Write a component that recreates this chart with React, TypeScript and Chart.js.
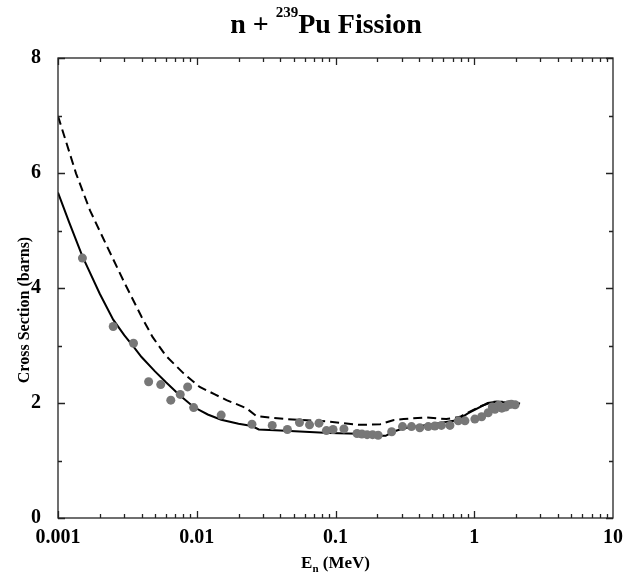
import React, { useEffect, useRef } from "react";
import { Chart, registerables } from "chart.js";

Chart.register(...registerables);

// ---- Data ----
const expEnergy = [
  0.0015, 0.0025, 0.0035, 0.0045, 0.0055, 0.0065, 0.0076, 0.0086, 0.0095, 0.015,
  0.025, 0.035, 0.045, 0.055, 0.065, 0.076, 0.086, 0.096, 0.115, 0.143,
  0.155, 0.169, 0.185, 0.203, 0.254, 0.304, 0.353, 0.405, 0.466, 0.52,
  0.58, 0.668, 0.767, 0.857, 1.01, 1.13, 1.26, 1.35, 1.41, 1.5,
  1.58, 1.68, 1.76, 1.85, 1.97,
];
const expSigma = [
  4.52, 3.33, 3.04, 2.37, 2.32, 2.05, 2.15, 2.28, 1.92, 1.79,
  1.63, 1.61, 1.54, 1.66, 1.62, 1.65, 1.52, 1.54, 1.55, 1.47,
  1.46, 1.45, 1.45, 1.44, 1.5, 1.59, 1.59, 1.57, 1.59, 1.6,
  1.61, 1.61, 1.69, 1.69, 1.72, 1.76, 1.83, 1.93, 1.89, 1.96,
  1.91, 1.93, 1.97, 1.98, 1.97,
];

const solidEnergy = [
  0.001, 0.0012, 0.0015, 0.002, 0.0025, 0.003, 0.0035, 0.004, 0.005, 0.006,
  0.0075, 0.0095, 0.012, 0.015, 0.02, 0.025, 0.028, 0.04, 0.06, 0.09,
  0.17, 0.2, 0.23, 0.26, 0.31, 0.5, 0.75, 0.9, 1.25, 1.45, 2.14,
];
const solidSigma = [
  5.66, 5.15, 4.55, 3.9, 3.45, 3.18, 2.98, 2.8, 2.55, 2.36,
  2.14, 1.93, 1.8, 1.71, 1.64, 1.6, 1.54, 1.52, 1.5, 1.48,
  1.46, 1.43, 1.43, 1.5, 1.56, 1.63, 1.7, 1.82, 2.0, 2.02, 1.99,
];

const dashedEnergy = [
  0.001, 0.00135, 0.0017, 0.0022, 0.003, 0.004, 0.0048, 0.006, 0.008, 0.0105,
  0.0135, 0.0164, 0.0228, 0.027, 0.044, 0.086, 0.15, 0.21, 0.26, 0.31,
  0.45, 0.63, 0.79, 1.1, 1.37, 1.81, 2.14,
];
const dashedSigma = [
  6.99, 5.99, 5.35, 4.78, 4.1, 3.5, 3.15, 2.82, 2.52, 2.28,
  2.15, 2.05, 1.91, 1.77, 1.72, 1.68, 1.62, 1.63, 1.7, 1.72,
  1.75, 1.72, 1.76, 1.94, 2.02, 2.02, 1.98,
];

const xTickValues = [0.001, 0.01, 0.1, 1, 10];
const xTickLabels = ["0.001", "0.01", "0.1", "1", "10"];
const yTickValues = [0, 2, 4, 6, 8];

const titleMain1 = "n + ";
const titleSup = "239";
const titleMain2 = "Pu Fission";
const yTitle = "Cross Section (barns)";
const xTitleMain = "E";
const xTitleSub = "n";
const xTitleRest = " (MeV)";

const FONT = "'Liberation Serif', 'Times New Roman', serif";

const toPoints = (xs: number[], ys: number[]) => xs.map((x, i) => ({ x, y: ys[i] }));

const decorPlugin = {
  id: "decor",
  afterDraw(chart: any) {
    const { ctx, chartArea } = chart;
    const { left, right, top, bottom } = chartArea;
    const xs = chart.scales.x;
    const ys = chart.scales.y;
    ctx.save();
    ctx.strokeStyle = "#222";
    ctx.lineWidth = 1.3;
    ctx.strokeRect(left, top, right - left, bottom - top);
    ctx.beginPath();
    for (let d = -3; d <= 0; d++) {
      for (let m = 1; m <= 9; m++) {
        const v = m * Math.pow(10, d);
        const px = Math.round(xs.getPixelForValue(v)) + 0.5;
        const len = m === 1 ? 7 : 4;
        ctx.moveTo(px, bottom);
        ctx.lineTo(px, bottom - len);
        ctx.moveTo(px, top);
        ctx.lineTo(px, top + len);
      }
    }
    for (let v = 0; v <= 8; v++) {
      const py = Math.round(ys.getPixelForValue(v)) + 0.5;
      const len = v % 2 === 0 ? 7 : 4;
      ctx.moveTo(left, py);
      ctx.lineTo(left + len, py);
      ctx.moveTo(right, py);
      ctx.lineTo(right - len, py);
    }
    ctx.stroke();

    // Title with superscript
    ctx.fillStyle = "#000";
    ctx.textBaseline = "alphabetic";
    ctx.textAlign = "left";
    const big = `bold 28px ${FONT}`;
    const small = `bold 15px ${FONT}`;
    ctx.font = big;
    const w1 = ctx.measureText(titleMain1).width;
    const w3 = ctx.measureText(titleMain2).width;
    ctx.font = small;
    const w2 = ctx.measureText(titleSup).width;
    const total = w1 + w2 + w3;
    let tx = 326 - total / 2;
    ctx.font = big;
    ctx.fillText(titleMain1, tx, 33);
    tx += w1;
    ctx.font = small;
    ctx.fillText(titleSup, tx, 17);
    tx += w2;
    ctx.font = big;
    ctx.fillText(titleMain2, tx, 33);

    // X axis title with subscript
    const xf = `bold 17px ${FONT}`;
    const xs2 = `bold 11px ${FONT}`;
    ctx.font = xf;
    const a = ctx.measureText(xTitleMain).width;
    const c = ctx.measureText(xTitleRest).width;
    ctx.font = xs2;
    const b = ctx.measureText(xTitleSub).width;
    let xx = (left + right) / 2 - (a + b + c) / 2;
    ctx.font = xf;
    ctx.fillText(xTitleMain, xx, 568);
    xx += a;
    ctx.font = xs2;
    ctx.fillText(xTitleSub, xx, 572);
    xx += b;
    ctx.font = xf;
    ctx.fillText(xTitleRest, xx, 568);

    // Y axis title
    ctx.translate(25, 310);
    ctx.rotate(-Math.PI / 2);
    ctx.textAlign = "center";
    ctx.textBaseline = "middle";
    ctx.font = `bold 16px ${FONT}`;
    ctx.fillText(yTitle, 0, 0);
    ctx.restore();
  },
};

export default function App() {
  const ref = useRef<HTMLCanvasElement | null>(null);
  useEffect(() => {
    document.body.style.margin = "0";
    const canvas = ref.current;
    if (!canvas) return;
    const chart = new Chart(canvas, {
      type: "scatter",
      data: {
        datasets: [
          {
            label: "Experiment",
            data: toPoints(expEnergy, expSigma),
            pointRadius: 4.5,
            pointBackgroundColor: "#777777",
            pointBorderWidth: 0,
            showLine: false,
            order: 0,
          },
          {
            label: "Calc (solid)",
            data: toPoints(solidEnergy, solidSigma),
            showLine: true,
            borderColor: "#000",
            borderWidth: 2,
            pointRadius: 0,
            tension: 0,
            fill: false,
            order: 1,
          },
          {
            label: "Calc (dashed)",
            data: toPoints(dashedEnergy, dashedSigma),
            showLine: true,
            borderColor: "#000",
            borderWidth: 2,
            borderDash: [9, 5],
            pointRadius: 0,
            tension: 0,
            fill: false,
            order: 2,
          },
        ],
      },
      options: {
        responsive: false,
        animation: false,
        devicePixelRatio: 1,
        layout: { padding: { left: 0, right: 29, top: 58, bottom: 28 } },
        plugins: {
          legend: { display: false },
          title: { display: false },
          tooltip: { enabled: false },
        },
        scales: {
          x: {
            type: "logarithmic",
            min: 0.001,
            max: 10,
            grid: { display: false },
            border: { display: false },
            afterBuildTicks: (s: any) => {
              s.ticks = xTickValues.map((v) => ({ value: v }));
            },
            afterFit: (s: any) => {
              s.height = 30;
            },
            ticks: {
              autoSkip: false,
              maxRotation: 0,
              minRotation: 0,
              padding: 0,
              color: "#000",
              font: { family: FONT, weight: "bold", size: 20 },
              callback: (v: any, i: number) => xTickLabels[i] ?? "",
            },
          },
          y: {
            min: 0,
            max: 8,
            grid: { display: false },
            border: { display: false },
            afterBuildTicks: (s: any) => {
              s.ticks = yTickValues.map((v) => ({ value: v }));
            },
            afterFit: (s: any) => {
              s.width = 58;
            },
            ticks: {
              padding: 9,
              color: "#000",
              font: { family: FONT, weight: "bold", size: 20 },
              callback: (v: any) => String(v),
            },
          },
        },
      },
      plugins: [decorPlugin],
    } as any);
    return () => chart.destroy();
  }, []);
  return (
    <div style={{ position: "absolute", left: 0, top: 0, width: 642, height: 576, background: "#fff" }}>
      <canvas ref={ref} width={642} height={576} />
    </div>
  );
}
